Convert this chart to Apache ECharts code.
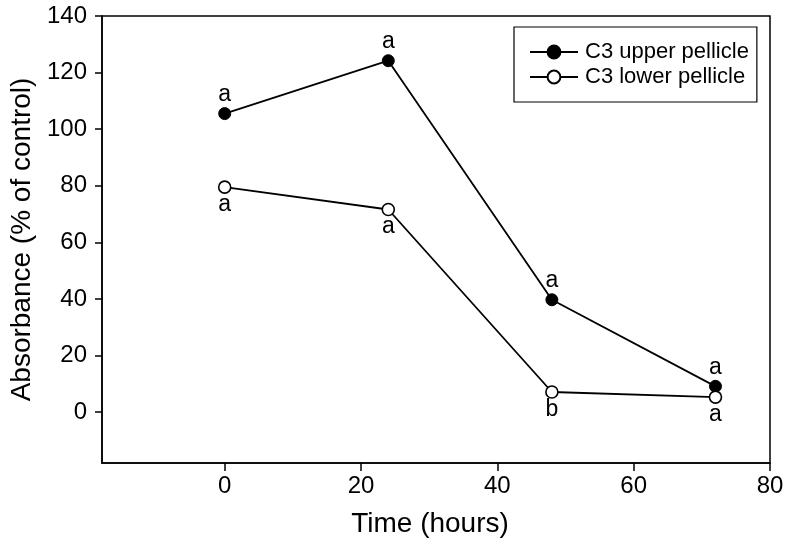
<!DOCTYPE html>
<html>
<head>
<meta charset="utf-8">
<script src="https://cdn.jsdelivr.net/npm/echarts@6/dist/echarts.min.js"></script>
<style>
html,body{margin:0;padding:0;background:#fff;}
#chart{width:787px;height:543px;}
</style>
</head>
<body>
<div id="chart"></div>
<script>
// ---- data ----
const hours = [0, 24, 48, 72];
const upperValues = [105.5, 124.2, 39.7, 9.1];
const lowerValues = [79.5, 71.6, 7.1, 5.3];
const upperLetters = ['a', 'a', 'a', 'a'];
const lowerLetters = ['a', 'a', 'b', 'a'];
const xTicks = [0, 20, 40, 60, 80];
const yTicks = [0, 20, 40, 60, 80, 100, 120, 140];
const seriesNames = ['C3 upper pellicle', 'C3 lower pellicle'];
const xName = 'Time (hours)';
const yName = 'Absorbance (% of control)';

const FONT = '"Liberation Sans", Arial, Helvetica, sans-serif';
const chart = echarts.init(document.getElementById('chart'), null, {renderer: 'canvas'});

function pairs(xs, ys) { return xs.map((x, i) => [x, ys[i]]); }

chart.setOption({
  backgroundColor: '#fff',
  animation: false,
  textStyle: {fontFamily: FONT, color: '#000'},
  grid: {
    left: 101, right: 17, top: 16, bottom: 80,
    show: true, borderColor: '#000', borderWidth: 1.5, backgroundColor: 'transparent'
  },
  legend: {
    orient: 'vertical',
    left: 514, top: 27,
    width: 243,
    padding: [14, 8, 14, 15],
    borderColor: '#000', borderWidth: 1.2,
    itemWidth: 48, itemHeight: 16, itemGap: 3,
    textStyle: {fontFamily: FONT, fontSize: 22, color: '#000', lineHeight: 22, padding: [0, 0, 0, 2]},
    data: seriesNames
  },
  xAxis: {
    type: 'value', min: -18, max: 80,
    name: xName, nameLocation: 'middle', nameGap: 47,
    nameTextStyle: {fontFamily: FONT, fontSize: 28, color: '#000', padding: [0, 12, 0, 0]},
    axisLine: {show: true, onZero: false, lineStyle: {color: '#000', width: 1.5}},
    axisTick: {show: true, inside: false, length: 8, lineStyle: {color: '#000', width: 1.5}, customValues: xTicks},
    axisLabel: {fontFamily: FONT, fontSize: 24, color: '#000', margin: 11, customValues: xTicks},
    splitLine: {show: false}
  },
  yAxis: {
    type: 'value', min: -18, max: 140,
    name: yName, nameLocation: 'middle', nameGap: 66, nameRotate: 90,
    nameTextStyle: {fontFamily: FONT, fontSize: 28, color: '#000', padding: [0, 0, 0, 0]},
    axisLine: {show: true, onZero: false, lineStyle: {color: '#000', width: 1.5}},
    axisTick: {show: true, inside: false, length: 7, lineStyle: {color: '#000', width: 1.5}, customValues: yTicks},
    axisLabel: {fontFamily: FONT, fontSize: 24, color: '#000', margin: 15, customValues: yTicks},
    splitLine: {show: false}
  },
  series: [
    {
      name: seriesNames[0], type: 'line',
      data: pairs(hours, upperValues),
      symbol: 'circle', symbolSize: 12,
      lineStyle: {color: '#000', width: 1.8},
      itemStyle: {color: '#000', borderColor: '#000', borderWidth: 1},
      label: {
        show: true, position: 'top', distance: 1,
        fontFamily: FONT, fontSize: 23, color: '#000',
        formatter: p => upperLetters[p.dataIndex]
      },
      z: 3
    },
    {
      name: seriesNames[1], type: 'line',
      data: pairs(hours, lowerValues),
      symbol: 'circle', symbolSize: 12,
      lineStyle: {color: '#000', width: 1.8},
      itemStyle: {color: '#fff', borderColor: '#000', borderWidth: 1.6},
      label: {
        show: true, position: 'bottom', distance: -1,
        fontFamily: FONT, fontSize: 23, color: '#000',
        formatter: p => lowerLetters[p.dataIndex]
      },
      z: 4
    }
  ]
});
</script>
</body>
</html>
